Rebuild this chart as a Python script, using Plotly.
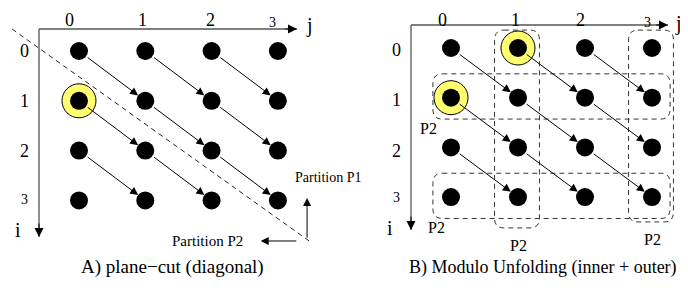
import plotly.graph_objects as go

# ---------------- data ----------------
row_idx = [0, 1, 2, 3]              # i
col_idx = [0, 1, 2, 3]              # j
tick_labels = ["0", "1", "2", "3"]
# dependence arrows (i, j) -> (i+1, j+1)
arrow_src_i = [0, 0, 0, 1, 1, 1, 2, 2, 2]
arrow_src_j = [0, 1, 2, 0, 1, 2, 0, 1, 2]
highlight_A = [(1, 0)]               # (i, j)
highlight_B = [(0, 1), (1, 0)]
# partitions in panel B: ("col", j) or ("row", i)
partitions_B = [("col", 1), ("col", 3), ("row", 1), ("row", 3)]
caption_A = "A) plane\u2212cut (diagonal)"
caption_B = "B) Modulo Unfolding (inner + outer)"

FONT = "Liberation Serif"
OFF = 8                       # page body margin
SW, SH = 688, 294             # screen size
W, H = SW - OFF, SH - OFF     # figure size

fig = go.Figure()

def xrange_for(px0, px1, origin, step):
    return [(px0 - origin) / step, (px1 - origin) / step]

def yrange_for(origin, step):
    return [(SH - origin) / step, (OFF - origin) / step]   # reversed

split = 340
fig.update_layout(
    width=W, height=H, margin=dict(l=0, r=0, t=0, b=0, pad=0),
    paper_bgcolor="white", plot_bgcolor="white", showlegend=False,
    font=dict(family=FONT, color="black"),
    xaxis=dict(domain=[0, (split - OFF) / W], range=xrange_for(OFF, split, 79, 66.3),
               visible=False, fixedrange=True),
    yaxis=dict(domain=[0, 1], range=yrange_for(51, 49.8), visible=False,
               anchor="x", fixedrange=True),
    xaxis2=dict(domain=[(split - OFF) / W, 1], range=xrange_for(split, SW, 451, 67),
                visible=False, anchor="y2", fixedrange=True),
    yaxis2=dict(domain=[0, 1], range=yrange_for(48, 49.7), visible=False,
                anchor="x2", fixedrange=True),
)

shapes = []
annotations = []

def txt(x, y, xa, ya, s, size, **kw):
    d = dict(x=x, y=y, xref=xa, yref=ya, text=s, showarrow=False,
             font=dict(family=FONT, size=size, color="#000000"))
    d.update(kw)
    annotations.append(d)

def panel(xa, ya, highlights, geom):
    fig.add_trace(go.Scatter(
        x=[h[1] for h in highlights], y=[h[0] for h in highlights],
        mode="markers", xaxis=xa, yaxis=ya, hoverinfo="skip",
        marker=dict(size=34, color="#ffff70", line=dict(color="black", width=1))))
    xs, ys = [], []
    for i in row_idx:
        for j in col_idx:
            xs.append(j); ys.append(i)
    fig.add_trace(go.Scatter(
        x=xs, y=ys, mode="markers", xaxis=xa, yaxis=ya, hoverinfo="skip",
        marker=dict(size=18, color="black", line=dict(width=0))))
    for si, sj in zip(arrow_src_i, arrow_src_j):
        annotations.append(dict(
            x=sj + 1, y=si + 1, ax=sj, ay=si, xref=xa, yref=ya, axref=xa, ayref=ya,
            text="", showarrow=True, arrowhead=2, arrowsize=1.6, arrowwidth=1,
            arrowcolor="black", standoff=9, startstandoff=9))
    ox, oy, xend, yend = geom["origin_j"], geom["origin_i"], geom["xend"], geom["yend"]
    shapes.append(dict(type="line", xref=xa, yref=ya, x0=ox, y0=oy, x1=xend, y1=oy,
                       line=dict(color="#555555", width=1.3)))
    shapes.append(dict(type="line", xref=xa, yref=ya, x0=ox, y0=oy, x1=ox, y1=yend,
                       line=dict(color="#555555", width=1.3)))
    annotations.append(dict(x=xend, y=oy, ax=xend - 0.2, ay=oy, xref=xa, yref=ya,
                            axref=xa, ayref=ya, text="", showarrow=True, arrowhead=2,
                            arrowsize=1.8, arrowwidth=1, arrowcolor="black"))
    annotations.append(dict(x=ox, y=yend, ax=ox, ay=yend - 0.3, xref=xa, yref=ya,
                            axref=xa, ayref=ya, text="", showarrow=True, arrowhead=2,
                            arrowsize=1.8, arrowwidth=1, arrowcolor="black"))
    txt(geom["jlab"][0], geom["jlab"][1], xa, ya, "j", 20)
    txt(geom["ilab"][0], geom["ilab"][1], xa, ya, "i", 20)
    for k, lab in enumerate(tick_labels):
        small = (k == 3)
        txt(col_idx[k] + geom["col_dx"][k], geom["col_i"] + (0.04 if small else 0),
            xa, ya, lab, 14 if small else 18)
        txt(geom["row_j"], row_idx[k] + geom["row_di"][k], xa, ya, lab, 14 if small else 18)

panel("x", "y", highlight_A, dict(
    origin_j=-0.603, origin_i=-0.442, xend=3.288, yend=3.735,
    jlab=(3.484, -0.52), ilab=(-0.92, 3.6),
    col_dx=[-0.136, -0.035, -0.01, -0.074], col_i=-0.62,
    row_j=-0.82, row_di=[0.0, 0.0, 0.0, -0.02]))

panel("x2", "y2", highlight_B, dict(
    origin_j=-0.597, origin_i=-0.463, xend=3.239, yend=3.662,
    jlab=(3.388, -0.50), ilab=(-0.91, 3.62),
    col_dx=[-0.12, -0.03, -0.07, -0.07], col_i=-0.56,
    row_j=-0.81, row_di=[0.04, 0.04, 0.08, 0.0]))

# ---------- panel A: plane cut ----------
shapes.append(dict(type="line", xref="x", yref="y", x0=-1.01, y0=-0.442, x1=3.514, y1=3.855,
                   line=dict(color="#222222", width=1, dash="5px,4px")))
annotations.append(dict(x=3.44, y=2.95, ax=3.44, ay=3.78, xref="x", yref="y", axref="x", ayref="y",
                        text="", showarrow=True, arrowhead=2, arrowsize=1.6, arrowwidth=1,
                        arrowcolor="black"))
annotations.append(dict(x=2.74, y=3.815, ax=3.30, ay=3.815, xref="x", yref="y", axref="x", ayref="y",
                        text="", showarrow=True, arrowhead=2, arrowsize=1.6, arrowwidth=1,
                        arrowcolor="black"))
txt(3.228, 2.55, "x", "y", "Partition P1", 14, xanchor="left")
txt(2.504, 3.815, "x", "y", "Partition P2", 15, xanchor="right")

# ---------- panel B: modulo partitions (rounded dashed boxes) ----------
def rounded_box(x0, x1, y0, y1, rx, ry):
    return (f"M {x0+rx},{y0} L {x1-rx},{y0} Q {x1},{y0} {x1},{y0+ry} "
            f"L {x1},{y1-ry} Q {x1},{y1} {x1-rx},{y1} L {x0+rx},{y1} "
            f"Q {x0},{y1} {x0},{y1-ry} L {x0},{y0+ry} Q {x0},{y0} {x0+rx},{y0} Z")

p2_labels = []
for kind, idx in partitions_B:
    if kind == "col":
        x0, x1 = idx - 0.35, idx + 0.32
        y0, y1 = -0.36, 3.56 + (0.06 if idx == 1 else -0.06)
        p2_labels.append((idx, y1 + 0.35))
    else:
        x0, x1 = -0.27, 3.27
        y0, y1 = idx - 0.48, idx + 0.43
        p2_labels.append((-0.34 + (0.0 if idx == 1 else 0.13), y1 + 0.18))
    shapes.append(dict(type="path", xref="x2", yref="y2",
                       path=rounded_box(x0, x1, y0, y1, 0.14, 0.2),
                       line=dict(color="#333333", width=1, dash="5px,4px")))
for lx, ly in p2_labels:
    txt(lx, ly, "x2", "y2", "P2", 16)

# ---------- captions ----------
txt((172 - OFF) / W, 1 - (280 - OFF) / H, "paper", "paper", caption_A, 19, xanchor="center")
txt((543 - OFF) / W, 1 - (280 - OFF) / H, "paper", "paper", caption_B, 18, xanchor="center")

fig.update_layout(shapes=shapes, annotations=annotations)
fig.write_html("out.html")
